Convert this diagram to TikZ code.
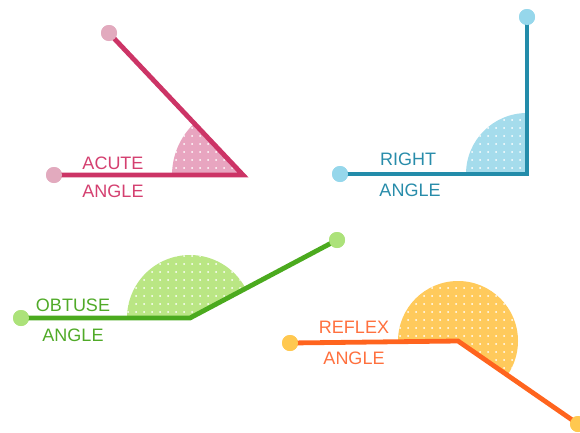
\documentclass[tikz,border=0pt]{standalone}
\usepackage{fontspec}
\setmainfont{Liberation Sans}
\usetikzlibrary{patterns.meta}
\definecolor{acL}{RGB}{204,52,102}
\definecolor{acD}{RGB}{226,170,190}
\definecolor{acS}{RGB}{232,165,192}
\definecolor{acT}{RGB}{212,64,112}
\definecolor{rtL}{RGB}{35,140,170}
\definecolor{rtD}{RGB}{150,215,235}
\definecolor{rtS}{RGB}{165,220,236}
\definecolor{rtT}{RGB}{40,140,170}
\definecolor{obL}{RGB}{75,170,30}
\definecolor{obD}{RGB}{172,226,122}
\definecolor{obS}{RGB}{186,230,132}
\definecolor{obT}{RGB}{80,170,40}
\definecolor{rfL}{RGB}{255,100,30}
\definecolor{rfD}{RGB}{255,200,80}
\definecolor{rfS}{RGB}{255,202,92}
\definecolor{rfT}{RGB}{255,112,62}
\tikzset{
  enddot/.style={circle, fill=#1, inner sep=0pt, minimum size=12pt},
  ray/.style={draw=#1, line width=3.6pt, line join=miter},
  sector/.style={fill=#1},
  speckle/.style={pattern={Dots[distance=6pt, radius=0.75pt]}, pattern color=white},
  lbl/.style={text=#1, font=\fontsize{13.5}{14}\selectfont, inner sep=0pt}
}
\begin{document}
\begin{tikzpicture}[x=0.75pt,y=-0.75pt]
\useasboundingbox (0,0) rectangle (580,432);
% ---------- acute
\coordinate (av) at (243,175);
\fill[sector=acS] (av) -- ++(180:71) arc[start angle=180, end angle=226.6, radius=71] -- cycle;
\fill[speckle] (av) -- ++(180:71) arc[start angle=180, end angle=226.6, radius=71] -- cycle;
\node[enddot=acD] (a1) at (54,175) {};
\node[enddot=acD] (a2) at (109,33) {};
\draw[ray=acL] (a1.center) -- (av) -- (a2.center);
\node[enddot=acD] at (a1) {};
\node[enddot=acD] at (a2) {};
\node[lbl=acT] (at1) at (113,163) {ACUTE};
\node[lbl=acT] (at2) at (113,191) {ANGLE};
% ---------- right
\coordinate (rv) at (527,174);
\fill[sector=rtS] (rv) -- ++(180:61) arc[start angle=180, end angle=270, radius=61] -- cycle;
\fill[speckle] (rv) -- ++(180:61) arc[start angle=180, end angle=270, radius=61] -- cycle;
\node[enddot=rtD] (r1) at (340,174) {};
\node[enddot=rtD] (r2) at (527,17) {};
\draw[ray=rtL] (r1.center) -- (rv) -- (r2.center);
\node[enddot=rtD] at (r1) {};
\node[enddot=rtD] at (r2) {};
\node[lbl=rtT] (rt1) at (408,159) {RIGHT};
\node[lbl=rtT] (rt2) at (410,190) {ANGLE};
% ---------- obtuse
\coordinate (ov) at (190,318);
\fill[sector=obS] (ov) -- ++(180:63) arc[start angle=180, end angle=332, radius=63] -- cycle;
\fill[speckle] (ov) -- ++(180:63) arc[start angle=180, end angle=332, radius=63] -- cycle;
\node[enddot=obD] (o1) at (21,318) {};
\node[enddot=obD] (o2) at (337,240) {};
\draw[ray=obL] (o1.center) -- (ov) -- (o2.center);
\node[enddot=obD] at (o1) {};
\node[enddot=obD] at (o2) {};
\node[lbl=obT] (ot1) at (73,305) {OBTUSE};
\node[lbl=obT] (ot2) at (73,335) {ANGLE};
% ---------- reflex
\coordinate (fv) at (458,341);
\fill[sector=rfS] (fv) -- ++(180:60) arc[start angle=180, end angle=394, radius=60] -- cycle;
\fill[speckle] (fv) -- ++(180:60) arc[start angle=180, end angle=394, radius=60] -- cycle;
\node[enddot=rfD] (f1) at (290,343) {};
\node[enddot=rfD] (f2) at (578,424) {};
\draw[ray=rfL] (f1.center) -- (fv) -- (f2.center);
\node[enddot=rfD] at (f1) {};
\node[enddot=rfD] at (f2) {};
\node[lbl=rfT] (ft1) at (354,327) {REFLEX};
\node[lbl=rfT] (ft2) at (354,358) {ANGLE};
\end{tikzpicture}
\end{document}
